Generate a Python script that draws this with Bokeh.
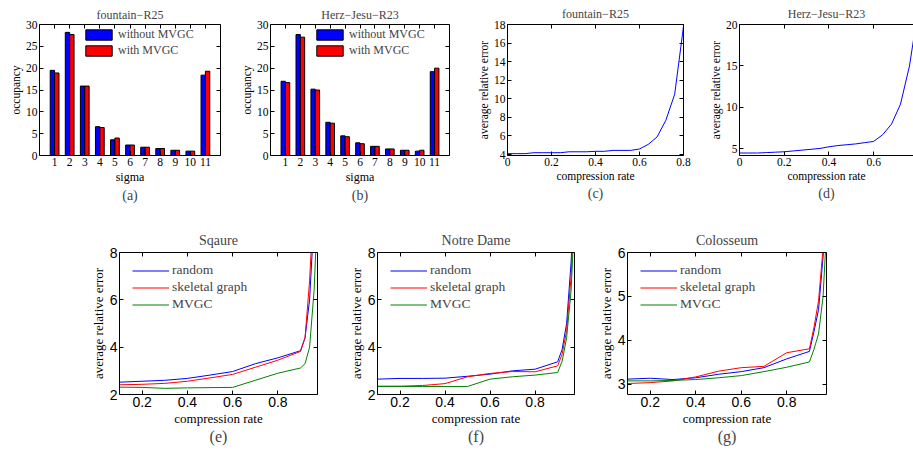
from bokeh.plotting import figure
from bokeh.models import FixedTicker, LinearAxis, Range1d, Title, ColumnDataSource, CustomJSTickFormatter
from bokeh.layouts import row, column
from bokeh.embed import file_html
from bokeh.resources import INLINE
from bokeh.transform import dodge

SERIF = "Liberation Serif"
SANS = "Liberation Sans"

# ---------------- data ----------------
sigma = [1, 2, 3, 4, 5, 6, 7, 8, 9, 10, 11]
fountain_without = [19.5, 28.2, 15.9, 6.6, 3.6, 2.4, 1.9, 1.6, 1.2, 1.0, 18.4]
fountain_with = [18.9, 27.7, 15.9, 6.4, 4.0, 2.4, 1.9, 1.6, 1.2, 1.0, 19.3]
herz_without = [17.0, 27.7, 15.2, 7.6, 4.5, 2.9, 2.1, 1.5, 1.2, 1.0, 19.2]
herz_with = [16.7, 27.1, 15.0, 7.4, 4.3, 2.7, 2.1, 1.5, 1.2, 1.2, 20.0]

rate_top = [0, 0.04, 0.08, 0.12, 0.16, 0.2, 0.24, 0.28, 0.32, 0.36, 0.4,
            0.44, 0.48, 0.52, 0.56, 0.6, 0.64, 0.68, 0.72, 0.76, 0.8]
fountain_err = [4.1, 4.1, 4.1, 4.2, 4.2, 4.2, 4.2, 4.3, 4.3, 4.3, 4.35,
                4.35, 4.45, 4.45, 4.45, 4.6, 5.1, 5.9, 7.7, 10.5, 17.8]
herz_err = [4.5, 4.5, 4.5, 4.55, 4.6, 4.65, 4.75, 4.85, 4.95, 5.05, 5.25,
            5.4, 5.5, 5.6, 5.75, 5.9, 6.7, 8.0, 10.4, 15.0, 22.0]

rate = [0.1, 0.2, 0.3, 0.4, 0.5, 0.6, 0.7, 0.8, 0.9, 0.92, 0.94, 0.96, 0.98]
square_random = [2.52, 2.56, 2.6, 2.68, 2.82, 2.97, 3.3, 3.55, 3.85, 4.4, 6.0, 9.5, 14]
square_skeletal = [2.41, 2.43, 2.47, 2.56, 2.7, 2.85, 3.15, 3.45, 3.82, 4.4, 6.8, 10.5, 15]
square_mvgc = [2.31, 2.3, 2.26, 2.28, 2.29, 2.3, 2.6, 2.9, 3.12, 3.3, 4.0, 6.4, 11]
notre_random = [2.65, 2.68, 2.68, 2.69, 2.77, 2.86, 3.0, 3.07, 3.38, 3.9, 5.0, 7.6, 12]
notre_skeletal = [2.35, 2.35, 2.38, 2.46, 2.75, 2.89, 2.97, 2.96, 3.21, 3.7, 4.7, 7.0, 11.5]
notre_mvgc = [2.34, 2.34, 2.34, 2.34, 2.34, 2.65, 2.75, 2.82, 2.93, 3.4, 4.4, 6.4, 10.5]
colo_random = [3.12, 3.14, 3.11, 3.15, 3.23, 3.29, 3.38, 3.58, 3.75, 4.2, 4.7, 5.9, 8]
colo_skeletal = [3.02, 3.04, 3.08, 3.17, 3.3, 3.38, 3.41, 3.72, 3.81, 4.3, 4.9, 6.1, 8]
colo_mvgc = [3.08, 3.08, 3.09, 3.11, 3.15, 3.2, 3.29, 3.39, 3.51, 3.8, 4.15, 5.0, 7]

BLUE, RED, GREEN = "#0000ff", "#ff0000", "#008000"

TOP_H = 207
BOT_H = 454 - TOP_H


def style_axis(ax, ticks, font, size, overrides=None):
    ax.ticker = FixedTicker(ticks=ticks)
    ax.major_tick_in = 4
    ax.major_tick_out = 0
    ax.minor_tick_line_color = None
    ax.axis_line_color = "black"
    ax.major_tick_line_color = "black"
    ax.major_label_text_font = font
    ax.major_label_text_font_size = size
    ax.major_label_text_color = "black"
    ax.major_label_standoff = 2
    ax.axis_label_text_font = SERIF
    ax.axis_label_text_font_style = "normal"
    ax.axis_label_text_color = "black"
    ax.axis_label_standoff = 1
    if overrides:
        ax.major_label_overrides = overrides


def mirror(p, ticks, side):
    ax = LinearAxis(ticker=FixedTicker(ticks=ticks), major_tick_in=4, major_tick_out=0,
                    minor_tick_line_color=None,
                    formatter=CustomJSTickFormatter(code="return ''"),
                    major_label_standoff=0, axis_line_color="black")
    p.add_layout(ax, side)


def make_fig(width, height, left, right, top, bottom, title, tsize, tstand):
    p = figure(width=width, height=height, min_border_left=left, min_border_right=right,
               min_border_top=top, min_border_bottom=bottom, output_backend="svg",
               toolbar_location=None, title=title)
    p.outline_line_color = None
    p.xgrid.visible = False
    p.ygrid.visible = False
    p.title.align = "center"
    p.title.text_font = SERIF
    p.title.text_font_style = "normal"
    p.title.text_font_size = tsize
    p.title.standoff = tstand
    return p


def caption(p, text, size, standoff):
    p.add_layout(Title(text=text, align="center", text_font=SERIF,
                       text_font_size=size, text_font_style="normal", standoff=standoff), "below")


def bar_panel(title, without, withv, cap, width, left, right):
    p = make_fig(width, TOP_H, left, right, 19, 50, title, "12px", 6)
    p.x_range = Range1d(0, 12)
    p.y_range = Range1d(0, 30)
    src = ColumnDataSource(dict(sigma=sigma, without=without, withv=withv))
    p.vbar(x=dodge("sigma", -0.145), top="without", width=0.29, source=src,
           fill_color=BLUE, line_color="black", line_width=1, legend_label="without MVGC")
    p.vbar(x=dodge("sigma", 0.145), top="withv", width=0.29, source=src,
           fill_color=RED, line_color="black", line_width=1, legend_label="with MVGC")
    style_axis(p.xaxis[0], sigma, SERIF, "11.5px")
    style_axis(p.yaxis[0], [0, 5, 10, 15, 20, 25, 30], SERIF, "11.5px")
    p.xaxis[0].axis_label = "sigma"
    p.yaxis[0].axis_label = "occupancy"
    p.xaxis[0].axis_label_text_font_size = "12px"
    p.yaxis[0].axis_label_text_font_size = "11.5px"
    mirror(p, [0, 5, 10, 15, 20, 25, 30], "right")
    mirror(p, sigma, "above")
    lg = p.legend[0]
    lg.location = (43, 97)
    lg.glyph_width = 33
    lg.glyph_height = 13
    lg.label_height = 13
    lg.spacing = 1
    lg.padding = 0
    lg.margin = 0
    lg.border_line_color = None
    lg.background_fill_alpha = 0
    lg.label_text_font = SERIF
    lg.label_text_font_size = "12px"
    lg.label_standoff = 3
    caption(p, cap, "14px", -2)
    return p


def err_panel(title, xs, ys, xr, yr, xticks, yticks, cap, width, left, right, top, bottom, mirror_right=True):
    p = make_fig(width, TOP_H, left, right, top, bottom, title, "12px", 8)
    p.x_range = Range1d(*xr)
    p.y_range = Range1d(*yr)
    p.line(xs, ys, line_color=BLUE, line_width=1)
    style_axis(p.xaxis[0], xticks, SERIF, "11.5px", {0: "0"})
    style_axis(p.yaxis[0], yticks, SERIF, "11.5px")
    p.xaxis[0].axis_label = "compression rate"
    p.yaxis[0].axis_label = "average relative error"
    p.xaxis[0].axis_label_text_font_size = "11.5px"
    p.yaxis[0].axis_label_text_font_size = "11.5px"
    if mirror_right:
        mirror(p, yticks, "right")
    mirror(p, xticks, "above")
    caption(p, cap, "14px", -2)
    return p


def cmp_panel(title, r, s, m, yr, yticks, cap, width, left, right):
    p = make_fig(width, BOT_H, left, right, 45, 60, title, "14px", 9)
    p.x_range = Range1d(0.1, 0.975)
    p.y_range = Range1d(*yr)
    p.line(rate, r, line_color=BLUE, line_width=1, legend_label="random")
    p.line(rate, s, line_color=RED, line_width=1, legend_label="skeletal graph")
    p.line(rate, m, line_color=GREEN, line_width=1, legend_label="MVGC")
    xt = [0.2, 0.4, 0.6, 0.8]
    style_axis(p.xaxis[0], xt, SANS, "14px")
    style_axis(p.yaxis[0], yticks, SANS, "14px")
    p.xaxis[0].axis_label = "compression rate"
    p.yaxis[0].axis_label = "average relative error"
    p.xaxis[0].axis_label_text_font_size = "13px"
    p.yaxis[0].axis_label_text_font_size = "13px"
    mirror(p, yticks, "right")
    mirror(p, xt, "above")
    lg = p.legend[0]
    lg.location = (13, 82)
    lg.glyph_width = 37
    lg.glyph_height = 13
    lg.label_height = 13
    lg.spacing = 1
    lg.padding = 0
    lg.margin = 0
    lg.border_line_color = None
    lg.background_fill_alpha = 0
    lg.label_text_font = SERIF
    lg.label_text_font_size = "13.5px"
    lg.label_standoff = 3
    caption(p, cap, "16px", -5)
    return p


pa = bar_panel("fountain\u2212R25", fountain_without, fountain_with, "(a)", 228, 39, 8)
pb = bar_panel("Herz\u2212Jesu\u2212R23", herz_without, herz_with, "(b)", 228, 42, 7)
pc = err_panel("fountain\u2212R25", rate_top, fountain_err, (0, 0.8), (3.9, 18),
               [0, 0.2, 0.4, 0.6, 0.8], [4, 6, 8, 10, 12, 14, 16, 18], "(c)", 244, 51, 17, 23, 52)
pd = err_panel("Herz\u2212Jesu\u2212R23", rate_top, herz_err, (0, 0.778), (4.2, 20),
               [0, 0.2, 0.4, 0.6], [5, 10, 15, 20], "(d)", 213, 39, 0, 23, 51, mirror_right=False)

pe = cmp_panel("Sqaure", square_random, square_skeletal, square_mvgc, (2, 8), [2, 4, 6, 8], "(e)", 330, 119, 13)
pf = cmp_panel("Notre Dame", notre_random, notre_skeletal, notre_mvgc, (2, 8), [2, 4, 6, 8], "(f)", 250, 47, 6)
pg = cmp_panel("Colosseum", colo_random, colo_skeletal, colo_mvgc, (2.77, 6), [3, 4, 5, 6], "(g)", 333, 47, 87)

layout = column(row(pa, pb, pc, pd, spacing=0), row(pe, pf, pg, spacing=0), spacing=0)
open("out.html", "w").write(file_html(layout, INLINE))
